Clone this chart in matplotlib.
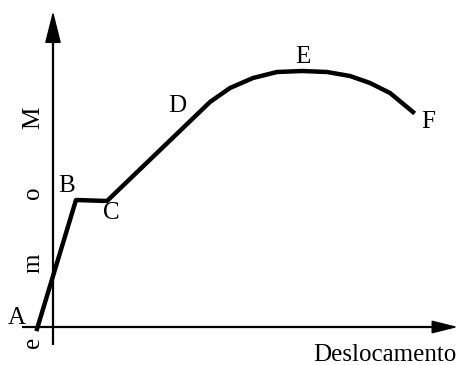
import matplotlib.pyplot as plt

# Schematic moment-displacement curve (units: arbitrary, origin at axes crossing)
curve_x = [-16, 23, 54, 157, 177, 200, 224, 249, 274, 297, 317, 337, 360]
curve_y = [-2, 127, 126, 225, 239, 249, 255, 256, 255, 251, 244, 234, 215]

point_labels = ['A', 'B', 'C', 'D', 'E', 'F']
label_x = [-36, 14, 58, 124, 250, 375]
label_y = [9, 141, 114, 221, 270, 205]

ylabel_letters = ['M', 'o', 'm', 'e']
ylabel_pos = [209, 134, 64, -15]

plt.rcParams['font.family'] = ['Liberation Serif', 'DejaVu Serif']

fig = plt.figure(figsize=(4.57, 3.65), dpi=100)
ax = fig.add_axes([0, 0, 1, 1])
ax.set_xlim(-53, 404)
ax.set_ylim(-38, 327)
ax.axis('off')

# Axes with arrow heads
ax.plot([0, 0], [-18, 292], color='black', lw=1.6, solid_capstyle='butt')
ax.plot([-31, 387], [0, 0], color='black', lw=1.6, solid_capstyle='butt')
ax.annotate('', xy=(0, 316), xytext=(0, 288), annotation_clip=False,
            arrowprops=dict(arrowstyle='-|>,head_length=2.0,head_width=0.5',
                            color='black', lw=1.2, shrinkA=0, shrinkB=0))
ax.annotate('', xy=(405, 0), xytext=(382, 0), annotation_clip=False,
            arrowprops=dict(arrowstyle='-|>,head_length=1.6,head_width=0.4',
                            color='black', lw=1.2, shrinkA=0, shrinkB=0))

# Curve
ax.plot(curve_x, curve_y, color='black', lw=3.2, solid_joinstyle='round')

for lab, x, y in zip(point_labels, label_x, label_y):
    ax.text(x, y, lab, fontsize=18, ha='center', va='center')

for ch, y in zip(ylabel_letters, ylabel_pos):
    ax.text(-20, y, ch, fontsize=18, ha='center', va='center', rotation=90)

ax.text(260, -28, 'Deslocamento', fontsize=18, ha='left', va='center')

fig.savefig('out.png', dpi=100)
